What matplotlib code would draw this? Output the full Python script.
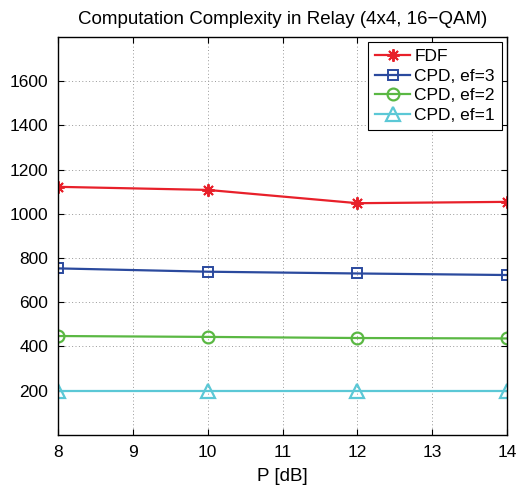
import matplotlib
matplotlib.use('Agg')
import matplotlib.pyplot as plt

p_db = [8, 10, 12, 14]
fdf = [1122, 1108, 1048, 1054]
cpd_ef3 = [753, 738, 730, 723]
cpd_ef2 = [447, 443, 438, 436]
cpd_ef1 = [198, 198, 198, 198]
yticks = [200, 400, 600, 800, 1000, 1200, 1400, 1600]

plt.rcParams['font.family'] = ['Liberation Sans', 'DejaVu Sans']

fig = plt.figure(figsize=(5.19, 4.93), dpi=100)
ax = fig.add_axes([0.112, 0.118, 0.865, 0.807])

ax.plot(p_db, fdf, color='#e8202a', marker=(8, 2, 0), markersize=9, lw=1.6,
        markeredgewidth=1.4, label='FDF')
ax.plot(p_db, cpd_ef3, color='#2b4a9e', marker='s', markersize=7.5, lw=1.6,
        markerfacecolor='none', markeredgewidth=1.4, label='CPD, ef=3')
ax.plot(p_db, cpd_ef2, color='#5ab843', marker='o', markersize=8.5, lw=1.6,
        markerfacecolor='none', markeredgewidth=1.6, label='CPD, ef=2')
ax.plot(p_db, cpd_ef1, color='#5bc8d6', marker='^', markersize=9.5, lw=1.6,
        markerfacecolor='none', markeredgewidth=1.6, label='CPD, ef=1')

ax.set_xlim(8, 14)
ax.set_ylim(0, 1800)
ax.set_xticks(range(8, 15))
ax.set_yticks(yticks)
ax.grid(True, linestyle=(0, (1, 2.5)), color='#999999', linewidth=0.7)
ax.tick_params(direction='in', top=True, right=True, labelsize=12.5, length=4, pad=7)
for s in ax.spines.values():
    s.set_linewidth(1.0)

ax.set_title('Computation Complexity in Relay (4x4, 16\u2212QAM)', fontsize=13.5, pad=9)
ax.set_xlabel('P [dB]', fontsize=13.5, labelpad=6)

leg = ax.legend(loc='upper right', fontsize=12.5, fancybox=False, framealpha=1,
                edgecolor='black', handlelength=2.0, borderpad=0.4,
                labelspacing=0.25, handletextpad=0.25, borderaxespad=0.3)
leg.get_frame().set_linewidth(0.8)

plt.savefig('out.png', dpi=100)
